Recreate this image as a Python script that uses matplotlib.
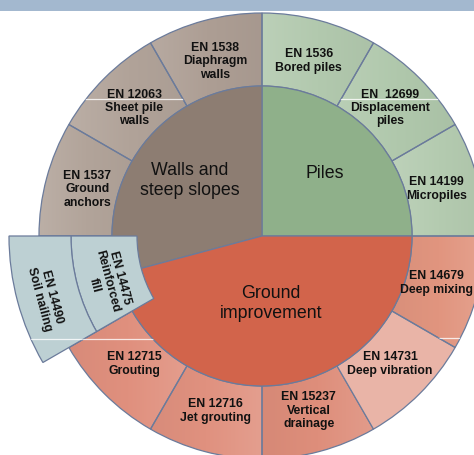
import matplotlib.pyplot as plt
from matplotlib.patches import Wedge, Rectangle
from matplotlib.colors import to_rgb
import numpy as np

plt.rcParams['font.family'] = ['Liberation Sans', 'DejaVu Sans']

# Main application fields (inner ring), sizes in units of one standard
groups = ["Piles", "Walls and\nsteep slopes", "Ground\nimprovement"]
group_sizes = [3, 3.5, 5.5]

# Execution standards (outer ring), counter-clockwise from the right
standards = ["EN 14199\nMicropiles", "EN  12699\nDisplacement\npiles", "EN 1536\nBored piles",
             "EN 1538\nDiaphragm\nwalls", "EN 12063\nSheet pile\nwalls", "EN 1537\nGround\nanchors",
             "EN 14475\nReinforced\nfill", "EN 12715\nGrouting", "EN 12716\nJet grouting",
             "EN 15237\nVertical\ndrainage", "EN 14731\nDeep vibration", "EN 14679\nDeep mixing"]
standard_sizes = [1] * 12

# Standard that sits outside the reinforced fill segment
extra_label = "EN 14490\nSoil nailing"

group_colors = ["#8fb08a", "#8d7d72", "#d2644b"]
standard_colors = ["#b4cbb0", "#b0c8ac", "#b2c9ae",
                   "#ad9e94", "#b1a399", "#b2a49a",
                   "#bdd0d3", "#e0907e", "#e0917f",
                   "#de8e7b", "#e9b4a7", "#e1957f"]
# sign of the horizontal shading across each segment (+1: lighter to the right)
shade_dir = [-1, -1, -1, -1, -1, -1, 0, 1, 1, 1, 0, 1]
blue = "#bdd0d3"
edge = "#6b7b9b"

W, H = 474, 455
cx, cy = 262, H - 236
r_in, r_out = 150, 223

fig = plt.figure(figsize=(W / 100, H / 100), dpi=100)
ax = fig.add_axes([0, 0, 1, 1])
ax.set_xlim(0, W)
ax.set_ylim(0, H)
ax.axis('off')


def shaded_fill(patch, color, direction, amount=0.08, z=1):
    """Paint a horizontal light-to-dark ramp inside a patch."""
    ax.add_patch(patch)
    if direction == 0:
        patch.set_facecolor(color)
        return
    patch.set_facecolor('none')
    bb = patch.get_path().get_extents(patch.get_patch_transform())
    ramp = np.linspace(-1, 1, 64) * direction
    base = np.array(to_rgb(color))
    img = np.empty((2, 64, 3))
    for i, t in enumerate(ramp):
        if t > 0:
            c = base + (1 - base) * amount * 1.5 * t
        else:
            c = base * (1 + amount * 0.45 * t)
        img[:, i] = c
    im = ax.imshow(img, extent=(bb.x0, bb.x1, bb.y0, bb.y1), aspect='auto',
                   interpolation='bilinear', zorder=z - 0.5)
    im.set_clip_path(patch)


# outer ring
deg_per_unit = 360 / sum(standard_sizes)
start = 0
standard_patches = []
for lab, size, col, sd in zip(standards, standard_sizes, standard_colors, shade_dir):
    t1, t2 = start, start + size * deg_per_unit
    w = Wedge((cx, cy), r_out, t1, t2, width=r_out - r_in,
              edgecolor=edge, lw=0.9, zorder=1)
    shaded_fill(w, col, sd)
    standard_patches.append(w)
    mid = np.radians((t1 + t2) / 2)
    if "Reinforced" not in lab:
        ax.text(cx + 181 * np.cos(mid), cy + 181 * np.sin(mid), lab, ha='center', va='center',
                fontsize=8.8, fontweight='bold', linespacing=1.15, color='#111111', zorder=5)
    start = t2

# inner ring
start = 0
inner_r = [89, 91, 68]
for lab, size, col, rr in zip(groups, group_sizes, group_colors, inner_r):
    t1, t2 = start, start + size * deg_per_unit
    ax.add_patch(Wedge((cx, cy), r_in, t1, t2, facecolor=col, edgecolor=edge, lw=0.9, zorder=2))
    mid = np.radians((t1 + t2) / 2)
    ax.text(cx + rr * np.cos(mid), cy + rr * np.sin(mid), lab, ha='center', va='center',
            fontsize=12.8, linespacing=1.2, color='#111111', zorder=5)
    start = t2

# reinforced fill and soil nailing, pulled out over both rings
t1, t2 = 180, 210
mid = np.radians(195)
blue_patches = []
for lab, (ra, rb) in zip([standards[6], extra_label], [(125, 191), (191, 253)]):
    w = Wedge((cx, cy), rb, t1, t2, width=rb - ra, facecolor=blue, edgecolor=edge,
              lw=0.9, zorder=3)
    ax.add_patch(w)
    blue_patches.append(w)
    rm = (ra + rb) / 2 + 2
    ax.text(cx + rm * np.cos(mid), cy + rm * np.sin(mid) - 4, lab, ha='center', va='center',
            rotation=-75, rotation_mode='anchor', fontsize=8.8, fontweight='bold',
            linespacing=1.15, color='#111111', zorder=5)

# thin light seams in some of the filled segments
seams = [(H - 99, standard_patches[4]), (H - 99, standard_patches[1]),
         (H - 339, standard_patches[7]), (H - 338, standard_patches[11]),
         (H - 339, blue_patches[0]), (H - 339, blue_patches[1])]
for y, p in seams:
    ln = ax.axhline(y, color='white', lw=0.9, alpha=0.8, zorder=4)
    ln.set_clip_path(p)

# banner strip along the top
ax.add_patch(Rectangle((0, H - 11), W, 11, facecolor="#a3b8cf", edgecolor='none', zorder=6))

fig.savefig("out.png", dpi=100)
